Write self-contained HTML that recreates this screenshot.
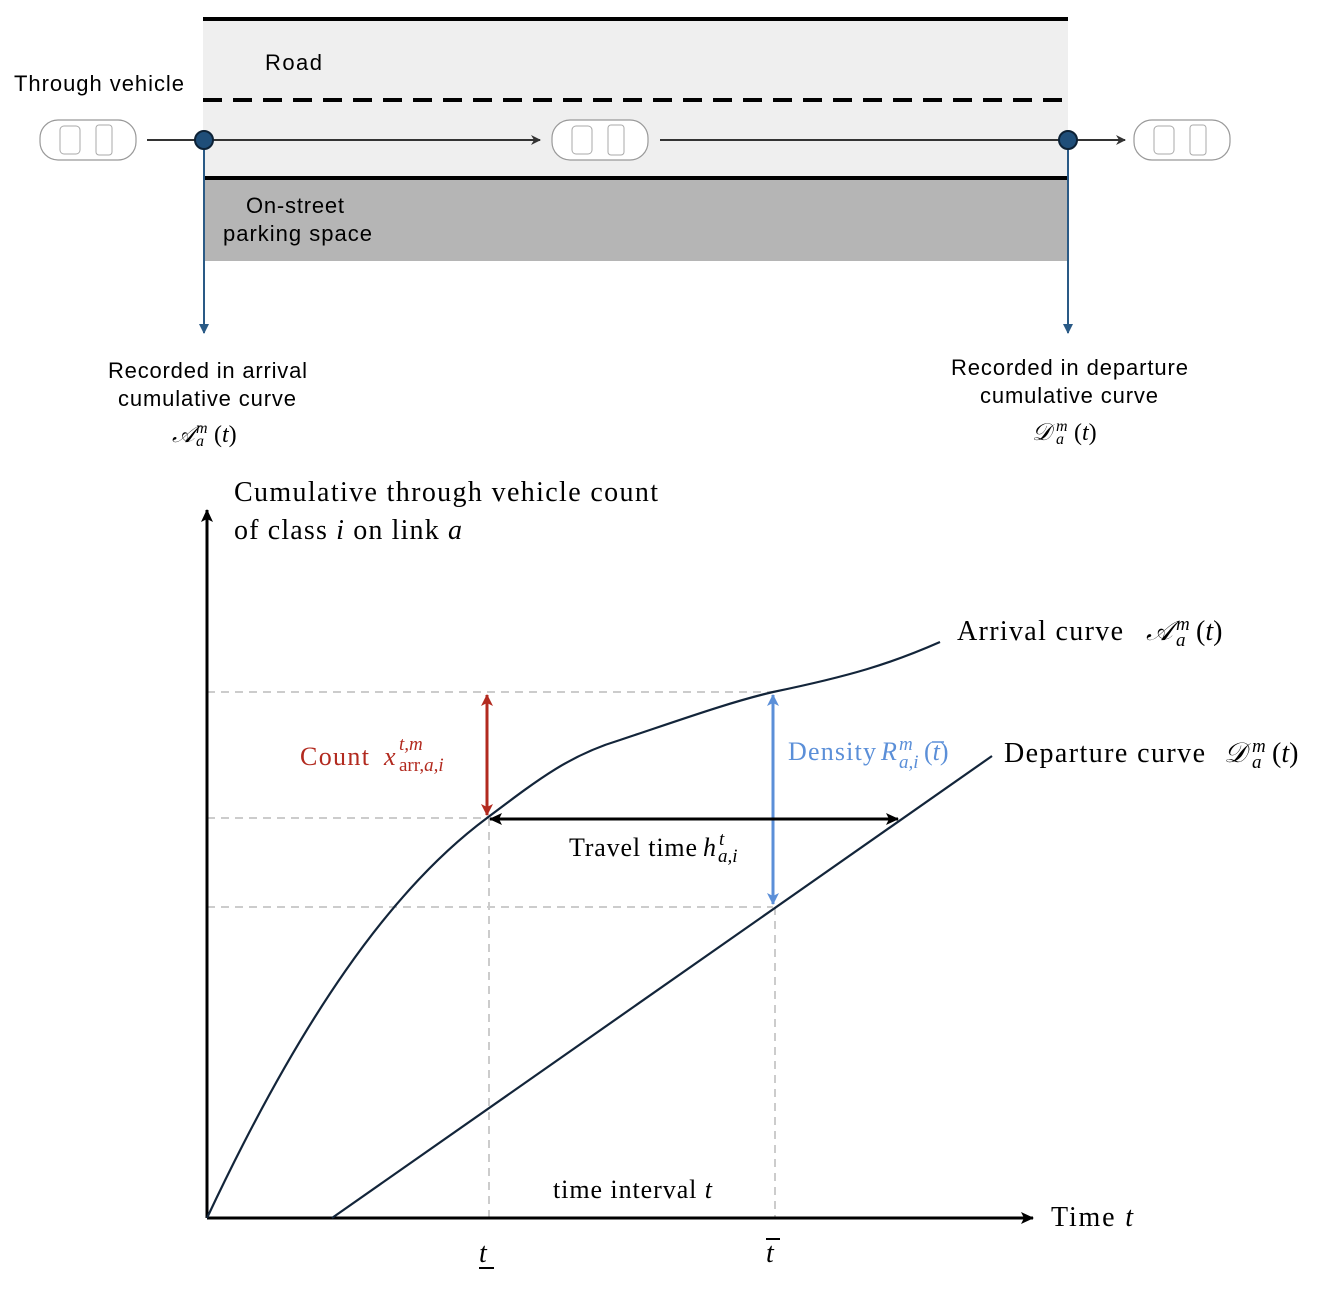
<!DOCTYPE html>
<html><head><style>body{margin:0;background:#fff}svg{display:block}</style></head><body>
<svg width="1344" height="1296" viewBox="0 0 1344 1296" xmlns="http://www.w3.org/2000/svg">
<defs>
<marker id="ah" markerWidth="10" markerHeight="10" refX="9" refY="5" orient="auto" markerUnits="userSpaceOnUse"><path d="M0,0 L10,5 L0,10 L3,5 Z" fill="#333"/></marker>
<marker id="ab" markerWidth="10" markerHeight="10" refX="9" refY="5" orient="auto" markerUnits="userSpaceOnUse"><path d="M0,0 L10,5 L0,10 Z" fill="#2a5a86"/></marker>
<marker id="ak" markerWidth="14" markerHeight="12" refX="12" refY="6" orient="auto-start-reverse" markerUnits="userSpaceOnUse"><path d="M0,0 L13,6 L0,12 L3,6 Z" fill="#000"/></marker>
<marker id="ar" markerWidth="12" markerHeight="12" refX="11" refY="6" orient="auto-start-reverse" markerUnits="userSpaceOnUse"><path d="M0,0 L12,6 L0,12 L3,6 Z" fill="#b22a1f"/></marker>
<marker id="abl" markerWidth="12" markerHeight="12" refX="11" refY="6" orient="auto-start-reverse" markerUnits="userSpaceOnUse"><path d="M0,0 L12,6 L0,12 L3,6 Z" fill="#5b8fd8"/></marker>
<g id="car"><rect x="-48" y="-20" width="96" height="40" rx="18" fill="#fff" stroke="#999" stroke-width="1.2"/><rect x="-28" y="-14" width="20" height="28" rx="4" fill="none" stroke="#aaa"/><rect x="8" y="-15" width="16" height="30" rx="3" fill="none" stroke="#aaa"/></g>
</defs>
<rect x="203" y="19" width="865" height="159" fill="#efefef"/>
<rect x="203" y="178" width="865" height="83" fill="#b5b5b5"/>
<line x1="203" y1="19" x2="1068" y2="19" stroke="#000" stroke-width="4"/>
<line x1="203" y1="100" x2="1068" y2="100" stroke="#000" stroke-width="4" stroke-dasharray="19,11"/>
<line x1="203" y1="178" x2="1068" y2="178" stroke="#000" stroke-width="4"/>
<g font-family="Liberation Sans, sans-serif" font-size="22" fill="#000">
<text x="14" y="91" textLength="170">Through vehicle</text>
<text x="265" y="70" textLength="57">Road</text>
<text x="246" y="213" textLength="98">On-street</text>
<text x="223" y="241" textLength="149">parking space</text>
<text x="108" y="378" textLength="199">Recorded in arrival</text>
<text x="118" y="406" textLength="178">cumulative curve</text>
<text x="951" y="375" textLength="237">Recorded in departure</text>
<text x="980" y="403" textLength="178">cumulative curve</text>
</g>
<g font-family="Liberation Serif, serif" font-size="24" font-style="italic">
<text x="172" y="442">𝒜</text><text x="196" y="433" font-size="16">m</text><text x="196" y="446" font-size="16">a</text><text x="214" y="442"><tspan font-style="normal">(</tspan>t<tspan font-style="normal">)</tspan></text>
<text x="1032" y="440">𝒟</text><text x="1056" y="431" font-size="16">m</text><text x="1056" y="444" font-size="16">a</text><text x="1074" y="440"><tspan font-style="normal">(</tspan>t<tspan font-style="normal">)</tspan></text>
</g>
<use href="#car" x="88" y="140"/><use href="#car" x="600" y="140"/><use href="#car" x="1182" y="140"/>
<line x1="147" y1="140" x2="540" y2="140" stroke="#333" stroke-width="2" marker-end="url(#ah)"/>
<line x1="660" y1="140" x2="1068" y2="140" stroke="#333" stroke-width="2"/>
<line x1="1068" y1="140" x2="1125" y2="140" stroke="#333" stroke-width="2" marker-end="url(#ah)"/>
<line x1="204" y1="140" x2="204" y2="333" stroke="#2a5a86" stroke-width="2" marker-end="url(#ab)"/>
<line x1="1068" y1="140" x2="1068" y2="333" stroke="#2a5a86" stroke-width="2" marker-end="url(#ab)"/>
<circle cx="204" cy="140" r="9" fill="#1f4e79" stroke="#0d2236" stroke-width="2"/>
<circle cx="1068" cy="140" r="9" fill="#1f4e79" stroke="#0d2236" stroke-width="2"/>
<g stroke="#ccc" stroke-width="2" stroke-dasharray="8,6" fill="none">
<line x1="207" y1="692" x2="773" y2="692"/><line x1="207" y1="818" x2="487" y2="818"/><line x1="207" y1="907" x2="773" y2="907"/>
<line x1="489" y1="818" x2="489" y2="1218"/><line x1="775" y1="907" x2="775" y2="1218"/>
</g>
<line x1="207" y1="1218" x2="207" y2="510" stroke="#000" stroke-width="3" marker-end="url(#ak)"/>
<line x1="207" y1="1218" x2="1033" y2="1218" stroke="#000" stroke-width="3" marker-end="url(#ak)"/>
<path d="M207,1218 C300,1020 390,890 487,818 C540,778 570,755 620,740 C680,720 730,702 773,692 C850,676 890,664 940,642" fill="none" stroke="#13253a" stroke-width="2.2"/>
<line x1="332" y1="1218" x2="992" y2="756" stroke="#13253a" stroke-width="2.2"/>
<line x1="487" y1="695" x2="487" y2="815" stroke="#b22a1f" stroke-width="3" marker-start="url(#ar)" marker-end="url(#ar)"/>
<line x1="773" y1="695" x2="773" y2="904" stroke="#5b8fd8" stroke-width="3" marker-start="url(#abl)" marker-end="url(#abl)"/>
<line x1="490" y1="819" x2="898" y2="819" stroke="#000" stroke-width="3" marker-start="url(#ak)" marker-end="url(#ak)"/>
<g font-family="Liberation Serif, serif" font-size="28">
<text x="234" y="501" textLength="424">Cumulative through vehicle count</text>
<text x="234" y="539" textLength="228">of class <tspan font-style="italic">i</tspan> on link <tspan font-style="italic">a</tspan></text>
<text x="957" y="640" textLength="166">Arrival curve</text>
<text x="1146" y="640" font-style="italic">𝒜</text><text x="1176" y="630" font-size="19" font-style="italic">m</text><text x="1176" y="646" font-size="19" font-style="italic">a</text><text x="1196" y="640">(<tspan font-style="italic">t</tspan>)</text>
<text x="1004" y="762" textLength="201">Departure curve</text>
<text x="1224" y="762" font-style="italic">𝒟</text><text x="1252" y="752" font-size="19" font-style="italic">m</text><text x="1252" y="768" font-size="19" font-style="italic">a</text><text x="1272" y="762">(<tspan font-style="italic">t</tspan>)</text>
<text x="1051" y="1226" textLength="82">Time <tspan font-style="italic">t</tspan></text>
<text x="479" y="1262" font-style="italic">t</text><line x1="479" y1="1268" x2="494" y2="1268" stroke="#000" stroke-width="2"/>
<text x="766" y="1262" font-style="italic">t</text><line x1="766" y1="1239" x2="780" y2="1239" stroke="#000" stroke-width="2"/>
</g>
<g font-family="Liberation Serif, serif" font-size="26">
<text x="300" y="765" fill="#b22a1f" textLength="69">Count</text>
<text x="384" y="765" fill="#b22a1f" font-style="italic">x</text>
<text x="399" y="750" fill="#b22a1f" font-style="italic" font-size="19">t,m</text>
<text x="399" y="771" fill="#b22a1f" font-size="19">arr,<tspan font-style="italic">a,i</tspan></text>
<text x="788" y="760" fill="#5b8fd8" textLength="88">Density</text>
<text x="881" y="760" fill="#5b8fd8" font-style="italic">R</text>
<text x="899" y="750" fill="#5b8fd8" font-style="italic" font-size="19">m</text>
<text x="899" y="768" fill="#5b8fd8" font-style="italic" font-size="19">a,i</text>
<text x="924" y="760" fill="#5b8fd8">(<tspan font-style="italic">t</tspan>)</text><line x1="932" y1="742" x2="944" y2="742" stroke="#5b8fd8" stroke-width="1.5"/>
<text x="569" y="856" textLength="128">Travel time</text>
<text x="703" y="856" font-style="italic">h</text>
<text x="719" y="845" font-style="italic" font-size="19">t</text>
<text x="718" y="862" font-style="italic" font-size="19">a,i</text>
<text x="553" y="1198" textLength="159">time interval <tspan font-style="italic">t</tspan></text>
</g>
</svg>
</body></html>
